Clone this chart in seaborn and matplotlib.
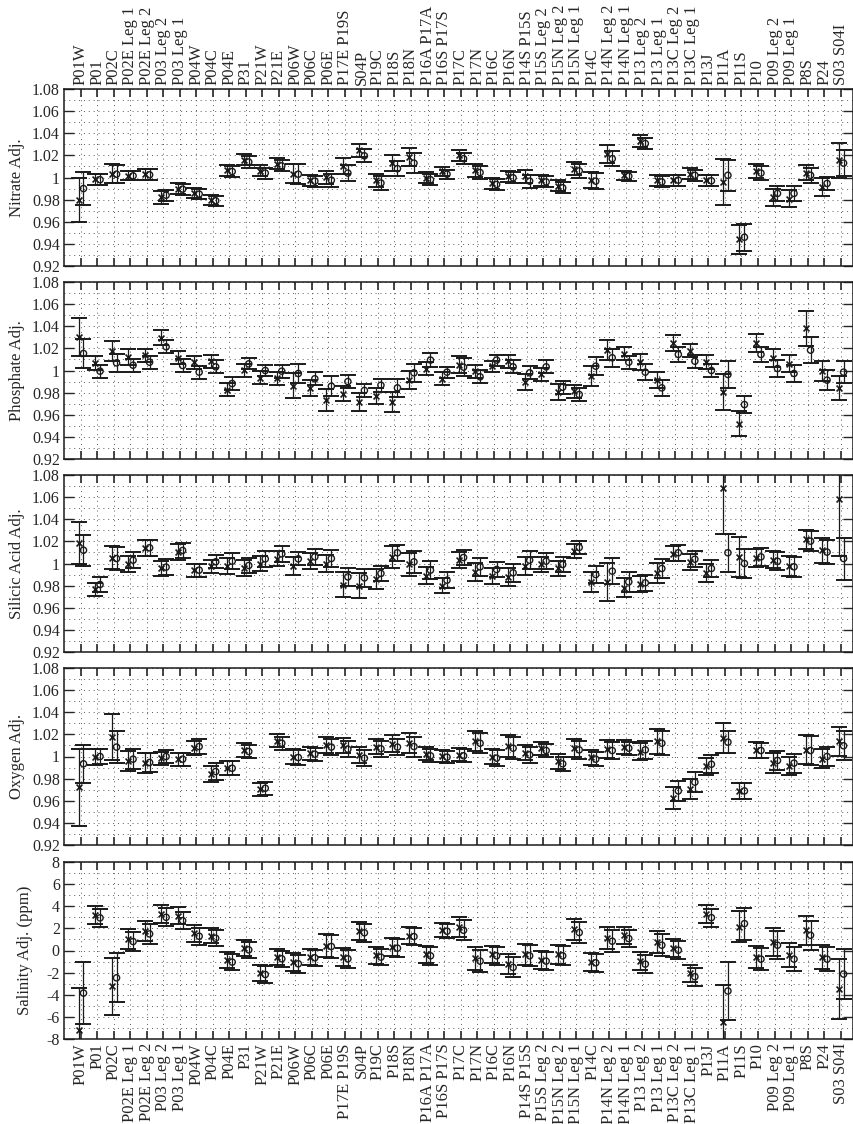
import numpy as np
import matplotlib
matplotlib.use("Agg")
import matplotlib.pyplot as plt
from matplotlib.ticker import MultipleLocator, FuncFormatter
import seaborn as sns

stations = ["P01W", "P01", "P02C", "P02E Leg 1", "P02E Leg 2", "P03 Leg 2", "P03 Leg 1",
            "P04W", "P04C", "P04E", "P31", "P21W", "P21E", "P06W", "P06C", "P06E",
            "P17E P19S", "S04P", "P19C", "P18S", "P18N", "P16A P17A", "P16S P17S",
            "P17C", "P17N", "P16C", "P16N", "P14S P15S", "P15S Leg 2", "P15N Leg 2",
            "P15N Leg 1", "P14C", "P14N Leg 2", "P14N Leg 1", "P13 Leg 2", "P13 Leg 1",
            "P13C Leg 2", "P13C Leg 1", "P13J", "P11A", "P11S", "P10", "P09 Leg 2",
            "P09 Leg 1", "P8S", "P24", "S03 S04I"]

# x = first estimate, o = second estimate, each with its own error bar
nitrate_x = [0.980, 0.9985, 1.0036, 1.0015, 1.003, 0.982, 0.990, 0.9856, 0.9796, 1.0066,
             1.016, 1.006, 1.0126, 1.0036, 0.9976, 1.0003, 1.0105, 1.0247, 0.9976, 1.013,
             1.0186, 1.000, 1.0057, 1.020, 1.0066, 0.995, 1.0012, 1.0012, 0.9976, 0.9925,
             1.008, 0.9976, 1.021, 1.0021, 1.033, 0.9976, 0.9976, 1.0036, 0.9976, 0.996,
             0.944, 1.006, 0.982, 0.981, 1.0045, 0.9916, 1.0156]
nitrate_x_err = [0.020, 0.005, 0.009, 0.004, 0.005, 0.006, 0.005, 0.0045, 0.0045, 0.005,
                 0.005, 0.005, 0.005, 0.009, 0.005, 0.006, 0.007, 0.006, 0.006, 0.007,
                 0.008, 0.005, 0.004, 0.005, 0.006, 0.005, 0.005, 0.006, 0.005, 0.005,
                 0.006, 0.007, 0.008, 0.004, 0.005, 0.005, 0.005, 0.005, 0.005, 0.021,
                 0.013, 0.006, 0.008, 0.008, 0.007, 0.008, 0.016]
nitrate_o = [0.990, 0.998, 1.003, 1.0015, 1.0024, 0.984, 0.9895, 0.985, 0.979, 1.0054,
             1.014, 1.004, 1.0105, 1.003, 0.9967, 0.9976, 1.004, 1.0196, 0.995, 1.008,
             1.013, 0.998, 1.003, 1.017, 1.0045, 0.9937, 0.9997, 0.9967, 0.996, 0.9907,
             1.006, 0.9967, 1.017, 1.0012, 1.0307, 0.996, 0.9976, 1.002, 0.997, 1.002,
             0.946, 1.004, 0.9856, 0.9856, 1.002, 0.9946, 1.013]
nitrate_o_err = [0.015, 0.005, 0.008, 0.004, 0.005, 0.005, 0.005, 0.0045, 0.0045, 0.005,
                 0.005, 0.005, 0.005, 0.009, 0.005, 0.006, 0.007, 0.006, 0.006, 0.007,
                 0.009, 0.005, 0.004, 0.005, 0.006, 0.005, 0.005, 0.006, 0.005, 0.005,
                 0.006, 0.007, 0.007, 0.004, 0.005, 0.005, 0.005, 0.005, 0.005, 0.014,
                 0.012, 0.006, 0.007, 0.007, 0.007, 0.006, 0.012]

phosphate_x = [1.0305, 1.0069, 1.0175, 1.0124, 1.0136, 1.0296, 1.0115, 1.0075, 1.0084, 0.9828,
               1.0003, 0.9934, 0.993, 0.9864, 0.9843, 0.9731, 0.9792, 0.9713, 0.9768, 0.9713,
               0.9913, 1.0018, 0.9925, 1.0054, 0.9994, 1.0039, 1.0084, 0.9897, 0.9964, 0.9807,
               0.9813, 0.9949, 1.0184, 1.0151, 1.0075, 0.9913, 1.025, 1.018, 1.0078, 0.9804,
               0.952, 1.025, 1.0115, 1.0063, 1.038, 0.9994, 0.9843]
phosphate_x_err = [0.017, 0.0065, 0.009, 0.007, 0.006, 0.007, 0.006, 0.006, 0.006, 0.006,
                   0.006, 0.006, 0.006, 0.011, 0.007, 0.010, 0.007, 0.008, 0.007, 0.009,
                   0.008, 0.006, 0.006, 0.008, 0.006, 0.005, 0.006, 0.007, 0.006, 0.007,
                   0.006, 0.009, 0.009, 0.006, 0.007, 0.007, 0.007, 0.006, 0.006, 0.016,
                   0.011, 0.008, 0.008, 0.008, 0.0155, 0.009, 0.011]
phosphate_o = [1.0154, 0.9994, 1.0069, 1.0048, 1.0075, 1.0214, 1.0045, 0.9985, 1.0033, 0.9882,
               1.006, 1.000, 0.9994, 0.9973, 0.9925, 0.9858, 0.990, 0.982, 0.9867, 0.9843,
               0.9979, 1.0094, 0.9985, 1.003, 0.9943, 1.0094, 1.0033, 0.9979, 1.0033, 0.9849,
               0.9783, 1.0039, 1.0115, 1.0075, 0.9985, 0.9843, 1.0145, 1.0084, 1.000, 0.9964,
               0.9692, 1.0145, 1.0018, 0.9973, 1.0184, 0.9913, 0.9985]
phosphate_o_err = [0.013, 0.006, 0.008, 0.006, 0.006, 0.006, 0.006, 0.006, 0.006, 0.006,
                   0.005, 0.005, 0.006, 0.009, 0.006, 0.009, 0.006, 0.006, 0.006, 0.008,
                   0.008, 0.006, 0.005, 0.008, 0.006, 0.005, 0.006, 0.006, 0.006, 0.006,
                   0.006, 0.008, 0.008, 0.006, 0.007, 0.007, 0.007, 0.006, 0.006, 0.012,
                   0.008, 0.007, 0.008, 0.008, 0.012, 0.009, 0.010]

silicate_x = [1.0181, 0.9765, 1.0051, 0.9997, 1.0142, 0.9955, 1.0106, 0.9937, 0.9976, 0.9976,
              0.9961, 1.000, 1.0045, 0.9976, 1.0021, 1.000, 0.981, 0.980, 0.9861, 1.006,
              0.9991, 0.9891, 0.980, 1.003, 0.9925, 0.9885, 0.988, 0.9976, 0.9991, 0.9955,
              1.0112, 0.9834, 0.9834, 0.9783, 0.9813, 0.9916, 1.009, 1.0015, 0.9916, 1.068,
              1.006, 1.0051, 1.0036, 0.9976, 1.0217, 1.0118, 1.0585]
silicate_x_err = [0.019, 0.006, 0.0105, 0.007, 0.007, 0.007, 0.007, 0.006, 0.006, 0.007,
                  0.007, 0.007, 0.007, 0.008, 0.007, 0.008, 0.011, 0.011, 0.009, 0.010,
                  0.010, 0.008, 0.007, 0.007, 0.008, 0.007, 0.008, 0.008, 0.007, 0.007,
                  0.006, 0.009, 0.017, 0.009, 0.007, 0.009, 0.007, 0.007, 0.008, 0.041,
                  0.018, 0.008, 0.008, 0.009, 0.009, 0.011, 0.052]
silicate_o = [1.012, 0.981, 1.0045, 1.003, 1.0142, 0.9967, 1.0118, 0.994, 1.0015, 1.0021,
              0.9982, 1.0042, 1.0087, 1.0042, 1.006, 1.0045, 0.9879, 0.987, 0.991, 1.0097,
              1.0015, 0.994, 0.9849, 1.0054, 0.997, 0.9946, 0.9916, 1.003, 1.0021, 0.9991,
              1.0145, 0.990, 0.9931, 0.9834, 0.9825, 0.9955, 1.0097, 1.0039, 0.9955, 1.0097,
              1.000, 1.006, 1.002, 0.997, 1.0202, 1.0103, 1.0045]
silicate_o_err = [0.014, 0.007, 0.0105, 0.007, 0.007, 0.007, 0.007, 0.006, 0.006, 0.007,
                  0.007, 0.007, 0.007, 0.006, 0.007, 0.008, 0.008, 0.008, 0.007, 0.007,
                  0.010, 0.008, 0.007, 0.007, 0.008, 0.007, 0.008, 0.008, 0.007, 0.007,
                  0.006, 0.008, 0.012, 0.009, 0.007, 0.009, 0.007, 0.007, 0.008, 0.017,
                  0.013, 0.008, 0.008, 0.009, 0.009, 0.011, 0.019]

oxygen_x = [0.9722, 0.9994, 1.0175, 0.9961, 0.994, 0.9985, 0.9976, 1.0075, 0.984, 0.9894,
            1.006, 0.9704, 1.0142, 1.000, 1.003, 1.0106, 1.010, 1.0015, 1.009, 1.0115,
            1.012, 1.0024, 1.0006, 1.0015, 1.0142, 1.000, 1.0097, 1.0036, 1.0075, 0.9955,
            1.0075, 0.9991, 1.0066, 1.0085, 1.0045, 1.0136, 0.9623, 0.9704, 0.991, 1.0166,
            0.9689, 1.006, 0.994, 0.9915, 1.006, 0.9979, 1.0136]
oxygen_x_err = [0.035, 0.007, 0.021, 0.009, 0.009, 0.006, 0.006, 0.0065, 0.0075, 0.0065,
                0.006, 0.006, 0.006, 0.0065, 0.006, 0.007, 0.007, 0.007, 0.007, 0.0075,
                0.009, 0.006, 0.0055, 0.006, 0.009, 0.007, 0.010, 0.007, 0.006, 0.0065,
                0.008, 0.0065, 0.008, 0.006, 0.008, 0.011, 0.010, 0.009, 0.008, 0.0135,
                0.0075, 0.007, 0.009, 0.0085, 0.013, 0.0085, 0.013]
oxygen_o = [0.9934, 1.000, 1.0085, 0.9976, 0.9946, 1.000, 0.9976, 1.009, 0.9864, 0.9894,
            1.0045, 0.9713, 1.012, 0.9991, 1.0021, 1.0085, 1.0066, 0.9985, 1.007, 1.0085,
            1.009, 1.0006, 0.9994, 1.0006, 1.012, 0.9985, 1.0075, 1.0015, 1.0054, 0.9934,
            1.006, 0.9976, 1.0054, 1.0075, 1.006, 1.012, 0.9689, 0.9768, 0.993, 1.013,
            0.9689, 1.0054, 0.9964, 0.994, 1.0054, 1.000, 1.0097]
oxygen_o_err = [0.017, 0.007, 0.0145, 0.009, 0.009, 0.006, 0.006, 0.0065, 0.0075, 0.0065,
                0.006, 0.006, 0.006, 0.0065, 0.006, 0.007, 0.007, 0.007, 0.007, 0.0075,
                0.009, 0.006, 0.0055, 0.006, 0.009, 0.007, 0.010, 0.007, 0.006, 0.0065,
                0.008, 0.0065, 0.008, 0.006, 0.008, 0.011, 0.009, 0.009, 0.008, 0.010,
                0.0075, 0.007, 0.009, 0.0085, 0.013, 0.0085, 0.013]

salinity_x = [-7.22, 3.22, -3.25, 1.05, 1.8, 3.3, 3.15, 1.56, 1.35, -0.84,
              0.21, -2.05, -0.6, -1.05, -0.6, 0.45, -0.6, 1.74, -0.45, 0.3,
              1.35, -0.36, 1.83, 2.13, -0.72, -0.36, -1.23, -0.36, -0.87, -0.36,
              1.92, -1.02, 1.14, 1.38, -0.96, 0.78, 0.24, -2.07, 3.33, -6.5,
              2.13, -0.57, 0.78, -0.42, 1.83, -0.57, -3.51]
salinity_x_err = [3.8, 0.8, 2.55, 0.9, 0.9, 0.8, 0.75, 0.75, 0.7, 0.7,
                  0.7, 0.75, 0.75, 0.8, 0.75, 1.05, 0.8, 0.8, 0.75, 0.8,
                  0.75, 0.8, 0.65, 0.9, 1.0, 0.8, 0.9, 0.95, 0.8, 0.85,
                  0.95, 0.82, 0.97, 0.75, 0.82, 1.0, 0.82, 0.8, 0.82, 3.4,
                  1.4, 0.97, 1.25, 1.1, 1.3, 1.08, 2.7]
salinity_o = [-3.85, 2.95, -2.47, 0.81, 1.5, 3.0, 2.7, 1.29, 1.11, -1.05,
              0.06, -2.17, -0.75, -1.2, -0.66, 0.36, -0.75, 1.6, -0.6, 0.21,
              1.26, -0.48, 1.74, 1.83, -0.96, -0.48, -1.53, -0.48, -0.96, -0.48,
              1.62, -1.11, 0.84, 1.08, -1.23, 0.48, 0.03, -2.37, 2.97, -3.66,
              2.43, -0.78, 0.48, -0.78, 1.38, -0.78, -2.13]
salinity_o_err = [2.8, 0.8, 2.2, 0.9, 0.9, 0.8, 0.75, 0.75, 0.7, 0.7,
                  0.7, 0.75, 0.75, 0.8, 0.75, 1.05, 0.8, 0.8, 0.75, 0.8,
                  0.75, 0.8, 0.65, 0.9, 1.0, 0.8, 0.9, 0.95, 0.8, 0.85,
                  0.95, 0.82, 0.97, 0.75, 0.82, 1.0, 0.82, 0.8, 0.82, 2.6,
                  1.45, 0.97, 1.25, 1.1, 1.3, 1.08, 2.28]

panels = [
    ("Nitrate Adj.", nitrate_x, nitrate_x_err, nitrate_o, nitrate_o_err, (0.92, 1.08), 0.02),
    ("Phosphate Adj.", phosphate_x, phosphate_x_err, phosphate_o, phosphate_o_err, (0.92, 1.08), 0.02),
    ("Silicic Acid Adj.", silicate_x, silicate_x_err, silicate_o, silicate_o_err, (0.92, 1.08), 0.02),
    ("Oxygen Adj.", oxygen_x, oxygen_x_err, oxygen_o, oxygen_o_err, (0.92, 1.08), 0.02),
    ("Salinity Adj. (ppm)", salinity_x, salinity_x_err, salinity_o, salinity_o_err, (-8, 8), 2),
]

sns.set_theme(style="ticks")
plt.rcParams["font.family"] = ["Liberation Serif", "DejaVu Serif"]
plt.rcParams["axes.unicode_minus"] = False

W, H = 854, 1124
fig = plt.figure(figsize=(W / 100, H / 100), dpi=100)

pos = np.arange(1, len(stations) + 1)
left_px, right_px = 64, 853
panel_h = 177
tops = [89, 282, 475, 668, 862]

grid_kw = dict(color="0.35", linewidth=0.7, linestyle=(0, (1, 4)))

for i, (ylabel, xv, xe, ov, oe, lims, step) in enumerate(panels):
    top = tops[i]
    ax = fig.add_axes([left_px / W, 1 - (top + panel_h) / H,
                       (right_px - left_px) / W, panel_h / H])

    ax.errorbar(pos - 0.12, xv, yerr=xe, fmt="none", ecolor="k",
                elinewidth=0.9, capsize=5.5, capthick=1.4, zorder=2)
    ax.errorbar(pos + 0.18, ov, yerr=oe, fmt="none", ecolor="k",
                elinewidth=0.9, capsize=5.5, capthick=1.4, zorder=2)
    sns.scatterplot(x=pos - 0.12, y=xv, marker="x", color="k", s=18,
                    linewidth=1.2, ax=ax, zorder=3)
    sns.scatterplot(x=pos + 0.18, y=ov, marker="o", s=20, facecolor="none",
                    edgecolor="k", linewidth=1.0, ax=ax, zorder=3)

    ax.set_xlim(0, 47.75)
    ax.set_ylim(*lims)
    ax.yaxis.set_major_locator(MultipleLocator(step))
    ax.yaxis.set_minor_locator(MultipleLocator(step / 2))
    ax.yaxis.set_major_formatter(FuncFormatter(lambda v, p: f"{v:g}"))
    ax.set_xticks(pos)
    ax.set_xticklabels(stations)

    ax.grid(True, axis="x", which="major", **grid_kw)
    ax.grid(True, axis="y", which="both", **grid_kw)
    ax.set_axisbelow(True)

    ax.tick_params(axis="x", which="major", direction="in", top=True, bottom=True,
                   length=6, width=1.2, labelsize=12, labelrotation=90, pad=3,
                   labeltop=(i == 0), labelbottom=(i == len(panels) - 1))
    ax.tick_params(axis="y", which="major", direction="in", left=True, right=True,
                   length=7, width=1.0, labelsize=11.5, pad=3)
    ax.tick_params(axis="y", which="minor", length=0)
    for s in ax.spines.values():
        s.set_linewidth(1.1)
        s.set_color("k")

    ax.set_xlabel("")
    ax.set_ylabel(ylabel, fontsize=12)
    if i == len(panels) - 1:
        ax.yaxis.set_label_coords(-0.039, 0.5)
    else:
        ax.yaxis.set_label_coords(-0.049, 0.5)

fig.savefig("out.png", dpi=100)
